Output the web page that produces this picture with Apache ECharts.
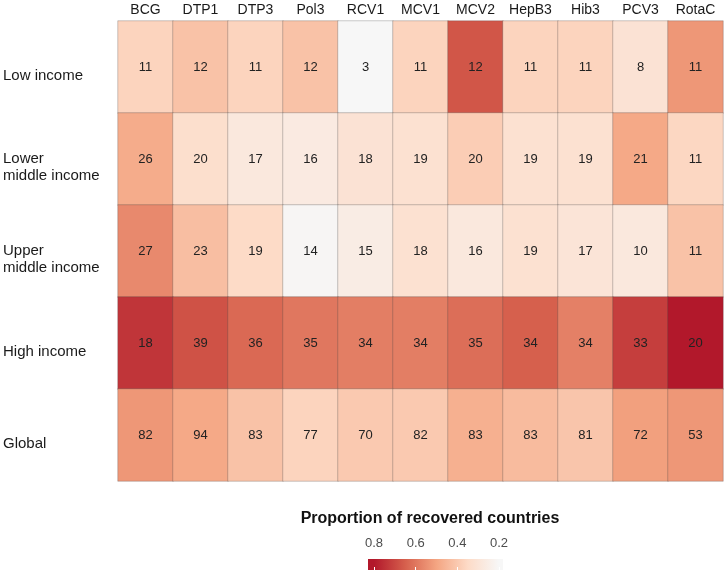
<!DOCTYPE html>
<html>
<head>
<meta charset="utf-8">
<script src="https://cdn.jsdelivr.net/npm/echarts@6/dist/echarts.min.js"></script>
<style>
  html, body { margin: 0; padding: 0; background: #fff; }
  #chart { width: 725px; height: 570px; }
</style>
</head>
<body>
<div id="chart"></div>
<script>
// vaccines across the top, income groups down the side
var vaccines = ['BCG', 'DTP1', 'DTP3', 'Pol3', 'RCV1', 'MCV1', 'MCV2', 'HepB3', 'Hib3', 'PCV3', 'RotaC'];
var groups = ['Low income', 'Lower\nmiddle income', 'Upper\nmiddle income', 'High income', 'Global'];

// number of recovered countries (cell text)
var counts = [
  [11, 12, 11, 12, 3, 11, 12, 11, 11, 8, 11],
  [26, 20, 17, 16, 18, 19, 20, 19, 19, 21, 11],
  [27, 23, 19, 14, 15, 18, 16, 19, 17, 10, 11],
  [18, 39, 36, 35, 34, 34, 35, 34, 34, 33, 20],
  [82, 94, 83, 77, 70, 82, 83, 83, 81, 72, 53]
];

// proportion of recovered countries (cell colour)
var proportions = [
  [0.37, 0.42, 0.37, 0.42, 0.20, 0.37, 0.67, 0.37, 0.37, 0.31, 0.53],
  [0.48, 0.33, 0.28, 0.27, 0.31, 0.32, 0.39, 0.32, 0.32, 0.49, 0.36],
  [0.56, 0.43, 0.35, 0.21, 0.26, 0.32, 0.28, 0.32, 0.30, 0.28, 0.42],
  [0.74, 0.68, 0.63, 0.60, 0.585, 0.585, 0.62, 0.65, 0.58, 0.72, 0.80],
  [0.53, 0.49, 0.42, 0.37, 0.40, 0.40, 0.47, 0.44, 0.41, 0.51, 0.53]
];

var legendTicks = [0.2, 0.4, 0.6, 0.8];
var scaleMin = 0.2, scaleMax = 0.8;
var palette = ['#f7f7f7', '#fddbc7', '#f4a582', '#d6604d', '#b2182b'];   // low -> high
var barMin = 0.181, barMax = 0.829;

var font = '"Liberation Sans", Arial, sans-serif';

var cells = [];
for (var r = 0; r < groups.length; r++) {
  for (var c = 0; c < vaccines.length; c++) {
    cells.push([c, r, proportions[r][c], counts[r][c]]);
  }
}

var chart = echarts.init(document.getElementById('chart'));

chart.setOption({
  backgroundColor: '#fff',
  animation: false,
  grid: [
    { left: 118, right: 2, top: 21, bottom: 89 },
    { left: 368, width: 135, top: 559, height: 11 }
  ],
  xAxis: [
    {
      type: 'category', data: vaccines, position: 'top', gridIndex: 0,
      axisLine: { show: false }, axisTick: { show: false }, splitLine: { show: false },
      axisLabel: { interval: 0, color: '#1a1a1a', fontSize: 14, fontFamily: font, margin: 4 }
    },
    {
      type: 'value', gridIndex: 1, min: barMin, max: barMax, inverse: true, position: 'top',
      axisLine: { show: false }, splitLine: { show: false },
      axisTick: { show: true, inside: true, length: 3, customValues: legendTicks, lineStyle: { color: '#fff', width: 1 } },
      axisLabel: {
        customValues: legendTicks, color: '#4d4d4d', fontSize: 13, fontFamily: font, margin: 9,
        formatter: function (v) { return v.toFixed(1); }
      },
      z: 20
    },
    {
      type: 'value', gridIndex: 1, min: barMin, max: barMax, inverse: true, position: 'bottom',
      axisLine: { show: false }, splitLine: { show: false }, axisLabel: { show: false },
      axisTick: { show: true, inside: true, length: 3, customValues: legendTicks, lineStyle: { color: '#fff', width: 1 } },
      z: 20
    }
  ],
  yAxis: [
    {
      type: 'category', data: groups, inverse: true, gridIndex: 0,
      axisLine: { show: false }, axisTick: { show: false }, splitLine: { show: false },
      axisLabel: {
        color: '#1a1a1a', fontSize: 15, fontFamily: font, align: 'left', margin: 115, lineHeight: 17,
        // an empty first line pushes the label a little below the row centre, as in the original
        formatter: function (v) { return '\n' + v; }
      }
    },
    { type: 'value', gridIndex: 1, show: false }
  ],
  visualMap: {
    show: false, type: 'continuous', dimension: 2, seriesIndex: 0,
    min: scaleMin, max: scaleMax, inRange: { color: palette }
  },
  series: [{
    type: 'heatmap',
    xAxisIndex: 0, yAxisIndex: 0,
    data: cells,
    itemStyle: { borderColor: 'rgba(70,70,70,0.35)', borderWidth: 0.8 },
    label: {
      show: true, color: '#222', fontSize: 13, fontFamily: font,
      formatter: function (p) { return p.data[3]; }
    }
  }]
});

// colour bar for the legend, drawn under the value axis of grid 1
var x0 = chart.convertToPixel({ xAxisIndex: 1 }, barMax);
var x1 = chart.convertToPixel({ xAxisIndex: 1 }, barMin);
var stops = [{ offset: 0, color: palette[palette.length - 1] }];
for (var i = palette.length - 1; i >= 0; i--) {
  var v = scaleMin + (scaleMax - scaleMin) * i / (palette.length - 1);
  stops.push({ offset: (barMax - v) / (barMax - barMin), color: palette[i] });
}
stops.push({ offset: 1, color: palette[0] });

chart.setOption({
  graphic: [
    {
      type: 'rect', z: 5,
      shape: { x: x0, y: 559, width: x1 - x0, height: 14 },
      style: { fill: new echarts.graphic.LinearGradient(0, 0, 1, 0, stops) }
    },
    {
      type: 'text', x: 430, y: 519,
      style: {
        text: 'Proportion of recovered countries', fill: '#111',
        font: 'bold 16px ' + font, textAlign: 'center', textVerticalAlign: 'middle'
      }
    }
  ]
});
</script>
</body>
</html>
